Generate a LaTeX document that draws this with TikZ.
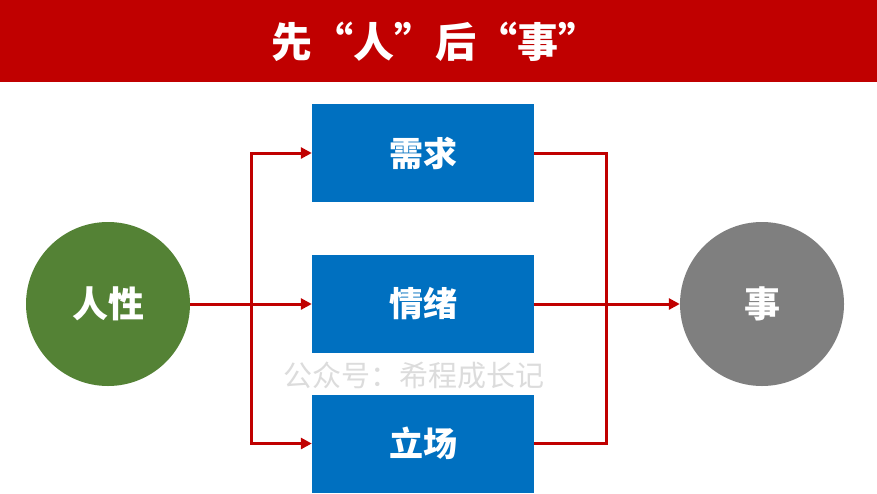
\documentclass[tikz,border=0pt]{standalone}
\usepackage{fontspec}
\setmainfont{Noto Sans CJK SC}
\usetikzlibrary{arrows.meta}
\definecolor{bannerred}{HTML}{C00000}
\definecolor{boxblue}{HTML}{0070C0}
\definecolor{rengreen}{HTML}{548235}
\definecolor{shigray}{HTML}{7F7F7F}
\definecolor{wmgray}{HTML}{DCDCDC}
\begin{document}
\begin{tikzpicture}[x=1pt,y=-1pt,
  stepbox/.style={rectangle, fill=boxblue, minimum width=222pt, minimum height=98pt, inner sep=0pt, text=white, font=\fontsize{34}{36}\selectfont\bfseries},
  roundnode/.style={circle, minimum size=164pt, inner sep=0pt, text=white, font=\fontsize{36}{38}\selectfont\bfseries},
  conn/.style={draw=bannerred, line width=3pt},
  arr/.style={conn, -{Triangle[length=11pt,width=11pt]}}
]
\useasboundingbox (0,0) rectangle (877,493);
\fill[white] (0,0) rectangle (877,493);
\fill[bannerred] (0,0) rectangle (877,82);
\node[text=white, font=\fontsize{41}{43}\selectfont\bfseries] (title) at (435,42) {先“人”后“事”};

\node[roundnode, fill=rengreen] (ren) at (108,304) {人性};
\node[roundnode, fill=shigray] (shi) at (762,304) {事};

\node[stepbox] (xuqiu) at (423,153) {需求};
\node[stepbox] (qingxu) at (423,304) {情绪};
\node[stepbox] (lichang) at (423,443.5) {立场};

\node[text=wmgray, font=\fontsize{29}{31}\selectfont] (wm) at (414,375) {公众号：希程成长记};

\coordinate (lj) at (251,304);
\coordinate (rj) at (606,304);

\draw[arr] (ren.east) -- (qingxu.west);
\draw[arr] (lj) |- (xuqiu.west);
\draw[arr] (lj) |- (lichang.west);
\draw[conn] (xuqiu.east) -| (rj);
\draw[conn] (lichang.east) -| (rj);
\draw[arr] (qingxu.east) -- (shi.west);
\end{tikzpicture}
\end{document}
